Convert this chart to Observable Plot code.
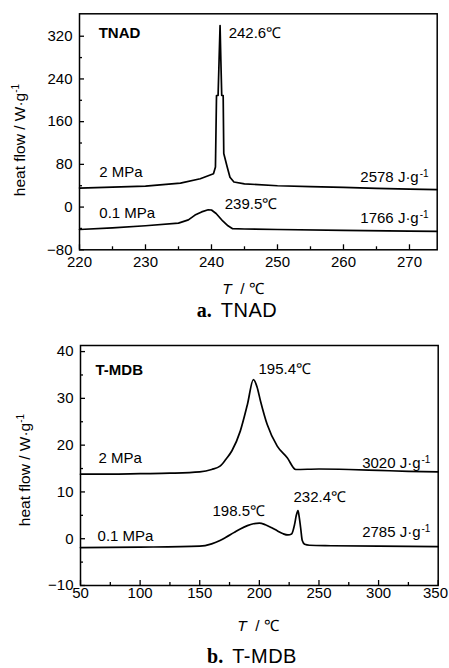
<!DOCTYPE html>
<html><head><meta charset="utf-8">
<script src="https://cdn.jsdelivr.net/npm/d3@7"></script>
<script src="https://cdn.jsdelivr.net/npm/@observablehq/plot@0.6"></script>
<style>
body{margin:0;background:#fff;}
#wrap{position:relative;width:449px;height:668px;overflow:hidden;background:#fff;font-family:"Liberation Sans",Arial,sans-serif;color:#000;}
.panel{position:absolute;left:0;}
.lab{position:absolute;white-space:nowrap;line-height:14px;font-size:15.5px;}
.ytitle{transform:translate(-50%,-50%) rotate(-90deg);}
.xtitle{transform:translateX(-50%);}
.cap{position:absolute;white-space:nowrap;line-height:18px;font-family:"Liberation Serif","DejaVu Serif",serif;font-size:20px;transform:translateX(-50%);}
.cap b{margin-right:9px;}
.cap span{font-family:"Liberation Sans",sans-serif;letter-spacing:0.5px;}
sup{font-size:0.65em;vertical-align:0.55em;line-height:0;}
</style></head><body><div id="wrap"></div>
<script>
// ---------- Panel a: TNAD ----------
const tnadTemp2MPa = [220, 225, 230, 235.3, 238.3, 240.3, 240.6, 240.76, 241.0, 241.15, 241.3, 241.42, 241.55, 241.77, 241.86, 242.38, 242.8, 243.4, 245, 250, 255, 260, 265, 270, 274.2];
const tnadFlow2MPa = [35.6, 37.5, 39.3, 44.9, 53.1, 62.5, 74.9, 209, 209, 275, 340, 275, 209, 209, 100.5, 75, 56, 47, 43.5, 40, 38.5, 37, 35, 33.5, 32.6];
const tnadTemp01MPa = [220, 225, 230, 235, 236.5, 237.5, 238.5, 239.5, 240, 240.7, 241.7, 242.5, 243.2, 245, 250, 260, 270, 274.2];
const tnadFlow01MPa = [-42, -39, -35, -30, -24, -15, -9, -5, -5.5, -12, -26, -35, -40.5, -41, -42, -43.5, -45, -45.5];
const tnadXTicks = [220, 230, 240, 250, 260, 270];
const tnadXMinor = [225, 235, 245, 255, 265];
const tnadYTicks = [-80, 0, 80, 160, 240, 320];
const tnadYMinor = [-40, 40, 120, 200, 280];
const tnadLabelText = ["242.6℃", "2 MPa", "0.1 MPa", "239.5℃"];
const tnadLabelX = [242.6, 223, 223, 242];
const tnadLabelY = [325, 65, -11.8, 5];
const tnadEnthalpyText = ["2578 J·g^-1", "1766 J·g^-1"];
const tnadEnthalpyX = [272.9, 272.9];
const tnadEnthalpyY = [55.6, -21];

// ---------- Panel b: T-MDB ----------
const tmdbTemp2MPa = [50, 75, 100, 125, 150, 160, 167, 172, 177, 184, 190, 195, 198, 201, 206.6, 215, 223.4, 230.5, 250, 275, 300, 325, 350];
const tmdbFlow2MPa = [13.8, 13.8, 13.9, 14.0, 14.3, 14.8, 15.5, 17, 18.8, 23, 28.7, 34, 32.5, 29.4, 24.4, 19.8, 17.3, 14.8, 14.9, 14.8, 14.6, 14.4, 14.3];
const tmdbTemp01MPa = [50, 100, 150, 160, 167, 172, 178.6, 184, 190, 195, 200, 205, 210, 215, 220, 224, 227, 229.5, 231, 232.4, 233.5, 234.6, 236, 238, 242, 260, 300, 350];
const tmdbFlow01MPa = [-1.9, -1.8, -1.6, -1.1, -0.4, 0.3, 1.3, 2.1, 2.8, 3.2, 3.35, 3.0, 2.4, 1.7, 1.05, 0.8, 1.0, 3.0, 5.0, 6.0, 4.5, 2.4, -0.4, -1.2, -1.4, -1.5, -1.6, -1.7];
const tmdbXTicks = [50, 100, 150, 200, 250, 300, 350];
const tmdbXMinor = [75, 125, 175, 225, 275, 325];
const tmdbYTicks = [-10, 0, 10, 20, 30, 40];
const tmdbYMinor = [-5, 5, 15, 25, 35];
const tmdbLabelText = ["195.4℃", "2 MPa", "232.4℃", "198.5℃", "0.1 MPa"];
const tmdbLabelX = [199.3, 65.1, 228.6, 160.7, 64.3];
const tmdbLabelY = [36.2, 17.3, 8.8, 5.8, 0.64];
const tmdbEnthalpyText = ["3020 J·g^-1", "2785 J·g^-1"];
const tmdbEnthalpyX = [343.5, 343.5];
const tmdbEnthalpyY = [16.2, 1.34];

const FONT = '"Liberation Sans",Arial,sans-serif';
const FS = 15;

function rows(xs, ys, key) { return xs.map((x, i) => ({x, y: ys[i], s: key})); }
function lab(txt, xs, ys) { return txt.map((t, i) => ({t, x: xs[i], y: ys[i]})); }

function panel(o) {
  const svg = Plot.plot({
    width: 449, height: o.h,
    marginLeft: o.ml, marginRight: o.mr, marginTop: o.mt, marginBottom: o.mb,
    x: {domain: o.xDomain}, y: {domain: o.yDomain},
    style: {fontFamily: FONT, fontSize: FS + "px", color: "#000", background: "transparent", overflow: "visible"},
    marks: [
      Plot.axisX(o.xTicks, {tickSize: -5, tickPadding: o.xPad, fontSize: FS, label: null, strokeWidth: 1.3}),
      Plot.axisX(o.xMinor, {tickSize: -3, tickFormat: () => "", label: null, strokeWidth: 1.3}),
      Plot.axisY(o.yTicks, {tickSize: -5, tickPadding: 12, fontSize: FS, label: null, strokeWidth: 1.3}),
      Plot.axisY(o.yMinor, {tickSize: -3, tickFormat: () => "", label: null, strokeWidth: 1.3}),
      Plot.line(o.series, {x: "x", y: "y", z: "s", stroke: "#000", strokeWidth: 1.7, curve: o.curve}),
      Plot.text([o.title], {x: d => d.x, y: d => d.y, text: d => d.t, textAnchor: "start", fontWeight: "bold", fontSize: FS, fill: "#000"}),
      Plot.text(o.labels, {x: "x", y: "y", text: "t", textAnchor: "start", fontSize: FS, fill: "#000"}),
      Plot.text(o.enth, {x: "x", y: "y", text: "t", textAnchor: "end", fontSize: FS, fill: "#000"}),
      Plot.frame({stroke: "#000", strokeWidth: 1.5})
    ]
  });
  d3.select(svg).selectAll("text").each(function() {
    const t = this.textContent;
    if (t.includes("^")) {
      const [a, b] = t.split("^");
      const sel = d3.select(this);
      sel.text(null);
      sel.append("tspan").text(a);
      sel.append("tspan").attr("dx", "1").attr("dy", "-0.5em").attr("font-size", "10px").text(b);
    }
  });
  svg.classList.add("panel");
  svg.style.top = o.top + "px";
  return svg;
}

function keepInside(svg) {
  const edge = wrap.getBoundingClientRect().right - 1;
  svg.querySelectorAll("text").forEach(t => {
    const r = t.getBoundingClientRect();
    if (r.width > 0 && r.right > edge) t.setAttribute("dx", (edge - r.right).toFixed(2));
  });
}

const wrap = document.getElementById("wrap");

const svgA = panel({
  top: 0, h: 330, ml: 79, mr: 12.3, mt: 13.3, mb: 80.7, xPad: 12, curve: "linear",
  xDomain: [220, 274.2], yDomain: [-80, 362],
  xTicks: tnadXTicks, xMinor: tnadXMinor, yTicks: tnadYTicks, yMinor: tnadYMinor,
  series: [...rows(tnadTemp2MPa, tnadFlow2MPa, "2 MPa"), ...rows(tnadTemp01MPa, tnadFlow01MPa, "0.1 MPa")],
  title: {t: "TNAD", x: 222.9, y: 325},
  labels: lab(tnadLabelText, tnadLabelX, tnadLabelY),
  enth: lab(tnadEnthalpyText, tnadEnthalpyX, tnadEnthalpyY)
});
wrap.appendChild(svgA);
keepInside(svgA);

const svgB = panel({
  top: 330, h: 338, ml: 80, mr: 11.3, mt: 15, mb: 83, xPad: 7, curve: "monotone-x",
  xDomain: [50, 350], yDomain: [-10, 41.3],
  xTicks: tmdbXTicks, xMinor: tmdbXMinor, yTicks: tmdbYTicks, yMinor: tmdbYMinor,
  series: [...rows(tmdbTemp2MPa, tmdbFlow2MPa, "2 MPa"), ...rows(tmdbTemp01MPa, tmdbFlow01MPa, "0.1 MPa")],
  title: {t: "T-MDB", x: 62.6, y: 36},
  labels: lab(tmdbLabelText, tmdbLabelX, tmdbLabelY),
  enth: lab(tmdbEnthalpyText, tmdbEnthalpyX, tmdbEnthalpyY)
});
wrap.appendChild(svgB);
keepInside(svgB);

const html = `
<div class="lab ytitle" style="left:20px;top:140px;">heat flow / W·g<sup>-1</sup></div>
<div class="lab xtitle" style="left:243px;top:281.5px;"><i>T</i>&nbsp; / ℃</div>
<div class="cap" style="left:237px;top:301.3px;"><b>a.</b><span>TNAD</span></div>
<div class="lab ytitle" style="left:25px;top:470px;">heat flow / W·g<sup>-1</sup></div>
<div class="lab xtitle" style="left:258px;top:618.5px;"><i>T</i>&nbsp; / ℃</div>
<div class="cap" style="left:252px;top:647.3px;"><b>b.</b><span>T-MDB</span></div>`;
wrap.insertAdjacentHTML("beforeend", html);
</script>
</body></html>
